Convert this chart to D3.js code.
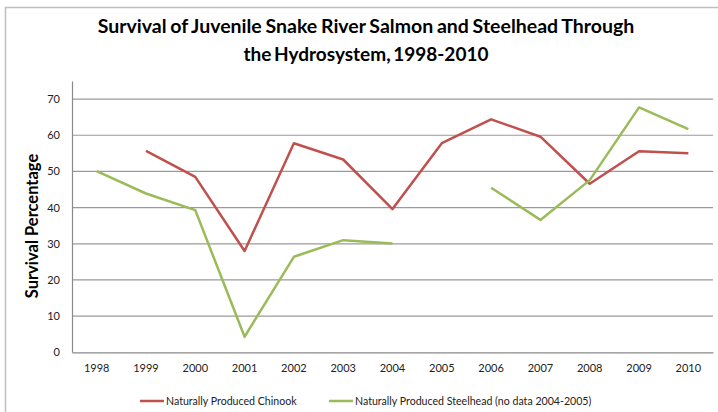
<!DOCTYPE html>
<html>
<head>
<meta charset="utf-8">
<script src="https://cdn.jsdelivr.net/npm/d3@7"></script>
<style>
body { margin: 0; background: #fff; }
text { font-family: Lato, "Open Sans", sans-serif; }
</style>
</head>
<body>
<div id="chart-area"></div>
<script>
var years = ["1998", "1999", "2000", "2001", "2002", "2003", "2004", "2005", "2006", "2007", "2008", "2009", "2010"];
var chinook = [null, 55.7, 48.5, 28.0, 57.8, 53.3, 39.6, 57.8, 64.4, 59.6, 46.6, 55.6, 55.0];
var steelhead = [50.1, 43.9, 39.3, 4.3, 26.4, 31.0, 30.1, null, 45.5, 36.6, 47.6, 67.7, 61.7];
var yTicks = [0, 10, 20, 30, 40, 50, 60, 70];
var seriesNames = ["Naturally Produced Chinook", "Naturally Produced Steelhead (no data 2004-2005)"];
var seriesColors = ["#c0504d", "#9bbb59"];

var width = 718;
var height = 412;
var margin = { top: 81, right: 5, bottom: 60, left: 72 };
var chartWidth = width - margin.left - margin.right;
var chartHeight = 352.3 - margin.top;

var svg = d3.select("#chart-area")
	.append("svg")
	.attr("width", width)
	.attr("height", height);

// outer frame
svg.append("path")
	.attr("d", "M5.5," + height + "V7.5H" + width)
	.attr("fill", "none")
	.attr("stroke", "#bfbfbf")
	.attr("stroke-width", 1.5);

svg.append("text")
	.attr("x", 366)
	.attr("y", 33)
	.attr("text-anchor", "middle")
	.attr("font-size", "19.5px")
	.attr("font-weight", "bold")
	.attr("word-spacing", "-1px")
	.attr("fill", "#000")
	.text("Survival of Juvenile Snake River Salmon and Steelhead Through");

svg.append("text")
	.attr("x", 366)
	.attr("y", 61)
	.attr("text-anchor", "middle")
	.attr("font-size", "19px")
	.attr("font-weight", "bold")
	.attr("word-spacing", "-2px")
	.attr("fill", "#000")
	.text("the Hydrosystem, 1998-2010");

var g = svg.append("g")
	.attr("transform", "translate(" + margin.left + "," + margin.top + ")");

var xScale = d3.scaleBand()
	.domain(years)
	.range([0, chartWidth]);

var yScale = d3.scaleLinear()
	.domain([0, 75])
	.range([chartHeight, 0]);

// gridlines
g.selectAll(".grid")
	.data(yTicks.filter(d => d > 0))
	.enter().append("line")
	.attr("class", "grid")
	.attr("x1", 0)
	.attr("x2", chartWidth)
	.attr("y1", d => yScale(d))
	.attr("y2", d => yScale(d))
	.attr("stroke", "#9a9a9a")
	.attr("stroke-width", 1.2);

var yAxis = d3.axisLeft(yScale).tickValues(yTicks).tickSize(0).tickPadding(12);
var yAxisG = g.append("g").call(yAxis);
yAxisG.select(".domain").attr("stroke", "#8a8a8a").attr("stroke-width", 1.2);
yAxisG.selectAll("text").attr("font-size", "11px").attr("fill", "#222");

var xAxis = d3.axisBottom(xScale).tickSize(0).tickPadding(12);
var xAxisG = g.append("g")
	.attr("transform", "translate(0," + chartHeight + ")")
	.call(xAxis);
xAxisG.select(".domain").attr("stroke", "#8a8a8a").attr("stroke-width", 1.2);
xAxisG.selectAll("text").attr("font-size", "11px").attr("fill", "#222");

svg.append("text")
	.attr("transform", "translate(38,226) rotate(-90)")
	.attr("text-anchor", "middle")
	.attr("font-size", "16.5px")
	.attr("font-weight", "bold")
	.attr("fill", "#000")
	.text("Survival Percentage");

var line = d3.line()
	.defined(d => d.v !== null)
	.x(d => xScale(d.year) + xScale.bandwidth() / 2)
	.y(d => yScale(d.v));

[chinook, steelhead].forEach((vals, i) => {
	g.append("path")
		.datum(years.map((y, j) => ({ year: y, v: vals[j] })))
		.attr("fill", "none")
		.attr("stroke", seriesColors[i])
		.attr("stroke-width", 2.5)
		.attr("stroke-linejoin", "round")
		.attr("d", line);
});

// legend
var legendX = [140, 329];
seriesNames.forEach((name, i) => {
	svg.append("line")
		.attr("x1", legendX[i])
		.attr("x2", legendX[i] + 24)
		.attr("y1", 401)
		.attr("y2", 401)
		.attr("stroke", seriesColors[i])
		.attr("stroke-width", 2.5);
	svg.append("text")
		.attr("x", legendX[i] + 26)
		.attr("y", 405)
		.attr("font-size", "10.6px")
		.attr("fill", "#222")
		.text(name);
});
</script>
</body>
</html>
